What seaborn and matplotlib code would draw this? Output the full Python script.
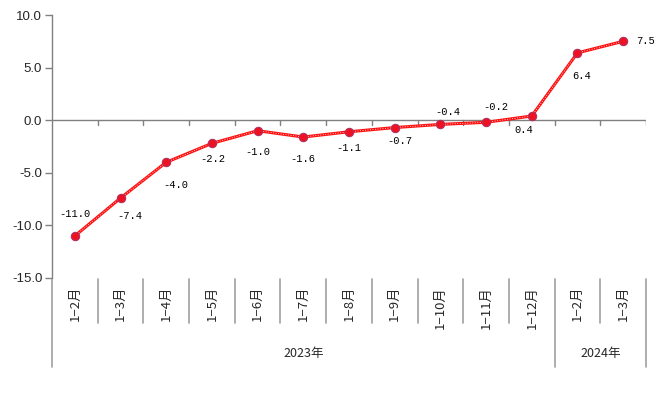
import numpy as np
import pandas as pd
import seaborn as sns
import matplotlib.pyplot as plt

# data
months = ["1−2月", "1−3月", "1−4月", "1−5月", "1−6月", "1−7月", "1−8月",
          "1−9月", "1−10月", "1−11月", "1−12月", "1−2月", "1−3月"]
years = ["2023年"] * 11 + ["2024年"] * 2
values = [-11.0, -7.4, -4.0, -2.2, -1.0, -1.6, -1.1, -0.7, -0.4, -0.2, 0.4, 6.4, 7.5]

# label offsets in points (dx, dy) relative to each marker
label_offsets = [(0, 16), (7, -13), (7, -16), (1, -11), (0, -15), (0, -16), (0, -12),
                 (4, -10), (5, 9), (7, 11), (-6, -10), (3, -17), (16, 0)]

sns.set_style("white")
plt.rcParams['font.family'] = ['Noto Sans CJK SC', 'DejaVu Sans']

W, H = 662, 393
fig = plt.figure(figsize=(W / 100, H / 100), dpi=100)
left, right, top, bottom = 52, 646, 15, 278
ax = fig.add_axes([left / W, 1 - bottom / H, (right - left) / W, (bottom - top) / H])

df = pd.DataFrame({"idx": np.arange(len(values)), "value": values})

sns.lineplot(data=df, x="idx", y="value", ax=ax, color="#ff1010", lw=2.2, zorder=3)
# white dotted core of the line
ax.plot(df["idx"], df["value"], color="white", lw=0.6, ls=(0, (1, 2)), zorder=3.5)
ax.plot(df["idx"], df["value"], ls="none", marker="o", markersize=6,
        markerfacecolor="#ee1122", markeredgecolor="#b03060",
        markeredgewidth=0.8, zorder=4)

n = len(values)
ax.set_xlim(-0.5, n - 0.5)
ax.set_ylim(-15, 10)
ax.set_yticks(np.arange(-15, 10.1, 5))
ax.set_yticklabels([f"{v:.1f}" for v in np.arange(-15, 10.1, 5)],
                   fontfamily="Liberation Sans", fontsize=9.5)
ax.tick_params(axis="y", direction="out", length=5, color="#808080", width=1, pad=2,
               left=True)
ax.set_xticks([])
ax.set_xlabel("")
ax.set_ylabel("")

for side in ["top", "right", "bottom"]:
    ax.spines[side].set_visible(False)
ax.spines["left"].set_color("#808080")
ax.spines["left"].set_linewidth(1)

# zero line with downward ticks at category boundaries
ax.axhline(0, color="#808080", lw=1, zorder=2)
tick_len = 5 / (bottom - top) * 25
for b in np.arange(0.5, n, 1):
    ax.plot([b, b], [0, -tick_len], color="#808080", lw=1, zorder=2)

# data labels
for i, v in enumerate(values):
    dx, dy = label_offsets[i]
    ax.annotate(f"{v:.1f}", (i, v), xytext=(dx, dy), textcoords="offset points",
                ha="center", va="center", fontsize=7.5,
                fontfamily="Liberation Mono", color="black")

# category table below the plot
trans = ax.get_xaxis_transform()
ph = bottom - top


def ay(py):
    return -(py - bottom) / ph


for i, m in enumerate(months):
    ax.text(i, ay(286), m, rotation=90, ha="center", va="top", fontsize=9.5,
            transform=trans, clip_on=False)

sep_col = "#a0a0a0"
for b in np.arange(-0.5, n, 1):
    is_long = b == -0.5 or b == n - 0.5 or (b > 0 and years[int(b - 0.5)] != years[int(b + 0.5)])
    end = 367 if is_long else 323
    ax.plot([b, b], [ay(279), ay(end)], color=sep_col, lw=1.2, transform=trans,
            clip_on=False)

# year group labels
for yr in dict.fromkeys(years):
    idx = [i for i, y in enumerate(years) if y == yr]
    ax.text((idx[0] + idx[-1]) / 2, ay(354), yr, ha="center", va="center",
            fontsize=9, transform=trans, clip_on=False)

fig.savefig("out.png", dpi=100)
